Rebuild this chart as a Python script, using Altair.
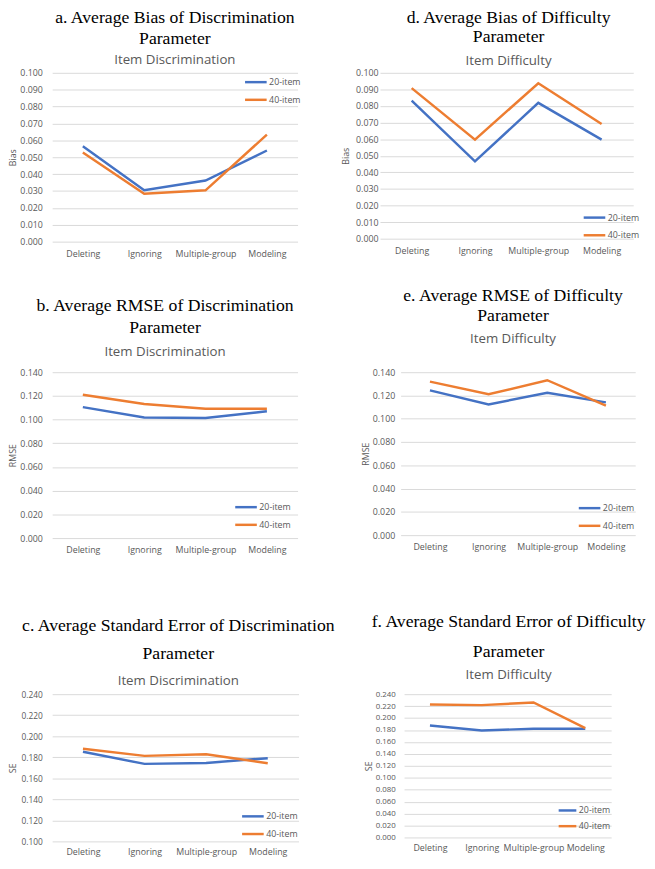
import altair as alt
import pandas as pd

categories = ["Deleting", "Ignoring", "Multiple-group", "Modeling"]
series_names = ["20-item", "40-item"]
colors = ["#4472C4", "#ED7D31"]

# a. Bias - discrimination
a_20 = [0.0565, 0.0304, 0.0362, 0.0540]
a_40 = [0.0528, 0.0284, 0.0304, 0.0634]
# d. Bias - difficulty
d_20 = [0.0833, 0.0466, 0.0819, 0.0597]
d_40 = [0.0908, 0.0597, 0.0937, 0.0692]
# b. RMSE - discrimination
b_20 = [0.1105, 0.1018, 0.1013, 0.1070]
b_40 = [0.1210, 0.1132, 0.1091, 0.1091]
# e. RMSE - difficulty
e_20 = [0.1244, 0.1123, 0.1224, 0.1141]
e_40 = [0.1319, 0.1210, 0.1331, 0.1112]
# c. SE - discrimination
c_20 = [0.1852, 0.1737, 0.1746, 0.1791]
c_40 = [0.1880, 0.1813, 0.1828, 0.1743]
# f. SE - difficulty
f_20 = [0.1875, 0.1792, 0.1820, 0.1820]
f_40 = [0.2227, 0.2216, 0.2260, 0.1830]

ticks_bias = [0.0, 0.01, 0.02, 0.03, 0.04, 0.05, 0.06, 0.07, 0.08, 0.09, 0.10]
ticks_rmse = [0.0, 0.02, 0.04, 0.06, 0.08, 0.10, 0.12, 0.14]
ticks_se_c = [0.10, 0.12, 0.14, 0.16, 0.18, 0.20, 0.22, 0.24]
ticks_se_f = [0.0, 0.02, 0.04, 0.06, 0.08, 0.10, 0.12, 0.14, 0.16, 0.18, 0.20, 0.22, 0.24]

GRAY = "#595959"
SANS = "Open Sans"
SERIF = "Liberation Serif"


def make_df(v20, v40):
    rows = []
    for name, vals in zip(series_names, [v20, v40]):
        for c, v in zip(categories, vals):
            rows.append({"Method": c, "Series": name, "Value": v})
    return pd.DataFrame(rows)


def panel(v20, v40, title_lines, subtitle, ytitle, domain, ticks, w, h,
          lx, ly, line_h, sub_pad, offset, dx=0, lab_size=9, lab_pad=8,
          title_pad=1, xlab_pad=8, row_pad=-4, sym=22, xtitle_space=None):
    df = make_df(v20, v40)
    xaxis_kw = dict(labelAngle=0, domain=False, ticks=False,
                    labelPadding=xlab_pad, labelFontSize=9,
                    labelColor=GRAY, labelFont=SANS)
    if xtitle_space is None:
        xaxis_kw["title"] = None
    else:
        # blank axis title used only as vertical spacing below the panel
        xaxis_kw.update(title=" ", titleFontSize=10, titlePadding=xtitle_space)
    return alt.Chart(df).mark_line(strokeWidth=2.5).encode(
        x=alt.X("Method:N", sort=categories,
                scale=alt.Scale(type="point", padding=0.5),
                axis=alt.Axis(**xaxis_kw)),
        y=alt.Y("Value:Q",
                scale=alt.Scale(domain=domain, nice=False, zero=False),
                axis=alt.Axis(values=ticks, format=".3f", title=ytitle,
                              grid=True, gridColor="#d9d9d9", domain=False,
                              ticks=False, labelPadding=lab_pad,
                              labelFontSize=lab_size, labelColor=GRAY,
                              labelFont=SANS, titleFont=SANS,
                              titleFontSize=9, titleFontWeight="normal",
                              titleColor=GRAY, titlePadding=title_pad)),
        color=alt.Color("Series:N",
                        scale=alt.Scale(domain=series_names, range=colors),
                        legend=alt.Legend(orient="none", legendX=lx, legendY=ly,
                                          title=None, symbolType="stroke",
                                          symbolSize=sym * sym,
                                          symbolStrokeWidth=2.5,
                                          labelFontSize=9, labelColor=GRAY,
                                          labelFont=SANS, labelOffset=1,
                                          padding=0, rowPadding=row_pad)),
    ).properties(
        width=w, height=h,
        title=alt.TitleParams(
            text=title_lines, subtitle=subtitle,
            font=SERIF, fontSize=18, fontWeight=400, color="black",
            lineHeight=line_h,
            subtitleFont=SANS, subtitleFontSize=13.5, subtitleColor=GRAY,
            subtitlePadding=sub_pad, offset=offset,
            anchor="middle", frame="group", dx=dx),
    )


pa = panel(a_20, a_40, ["a. Average Bias of Discrimination", "Parameter"],
           "Item Discrimination", "Bias", [0, 0.1], ticks_bias, 250, 172,
           195, -3, 22, 5, 2.5, lab_pad=10, title_pad=2)
pd_ = panel(d_20, d_40, ["d. Average Bias of Difficulty", "Parameter"],
            "Item Difficulty", "Bias", [0, 0.1], ticks_bias, 258, 169,
            206, 135, 20, 8, 1.5, dx=2, lab_pad=2, title_pad=5)
pb = panel(b_20, b_40, ["b. Average RMSE of Discrimination", "Parameter"],
           "Item Discrimination", "RMSE", [0, 0.14], ticks_rmse, 250, 169,
           185, 125, 22, 8, 10.5, dx=-10, lab_pad=10, title_pad=2,
           row_pad=-3, xtitle_space=21)
pe = panel(e_20, e_40, ["e. Average RMSE of Difficulty", "Parameter"],
           "Item Difficulty", "RMSE", [0, 0.14], ticks_rmse, 239, 166,
           180, 126, 21, 7, 23.5, dx=-5, lab_pad=6, title_pad=2)
pc = panel(c_20, c_40, ["c. Average Standard Error of Discrimination", "Parameter"],
           "Item Discrimination", "SE", [0.1, 0.24], ticks_se_c, 251, 150,
           192, 112, 28, 12, 2.5, dx=3, lab_size=8.5, lab_pad=10,
           title_pad=4, xlab_pad=6)
pf = panel(f_20, f_40, ["f. Average Standard Error of Difficulty", "Parameter"],
           "Item Difficulty", "SE", [0, 0.24], ticks_se_f, 211, 146,
           156, 108, 30, 8, 8.5, dx=1, lab_size=8, lab_pad=9, title_pad=2,
           row_pad=-12, sym=18, xlab_pad=6)


def row(left, right, sp):
    return alt.HConcatChart(hconcat=[left, right], spacing=sp).resolve_scale(
        color="independent").resolve_legend(color="independent")


row1 = row(pa, pd_, 41)
row2 = row(pb, pe, 65)
row3 = row(pc, pf, 28.5)

chart = alt.VConcatChart(vconcat=[row1, row2, row3], spacing=29).resolve_scale(
    color="independent").resolve_legend(color="independent").properties(
    padding={"left": 0, "top": -7, "right": 0, "bottom": 0}
).configure_view(stroke=None)

chart.save("out.html", embed_options={"renderer": "svg", "actions": False})
